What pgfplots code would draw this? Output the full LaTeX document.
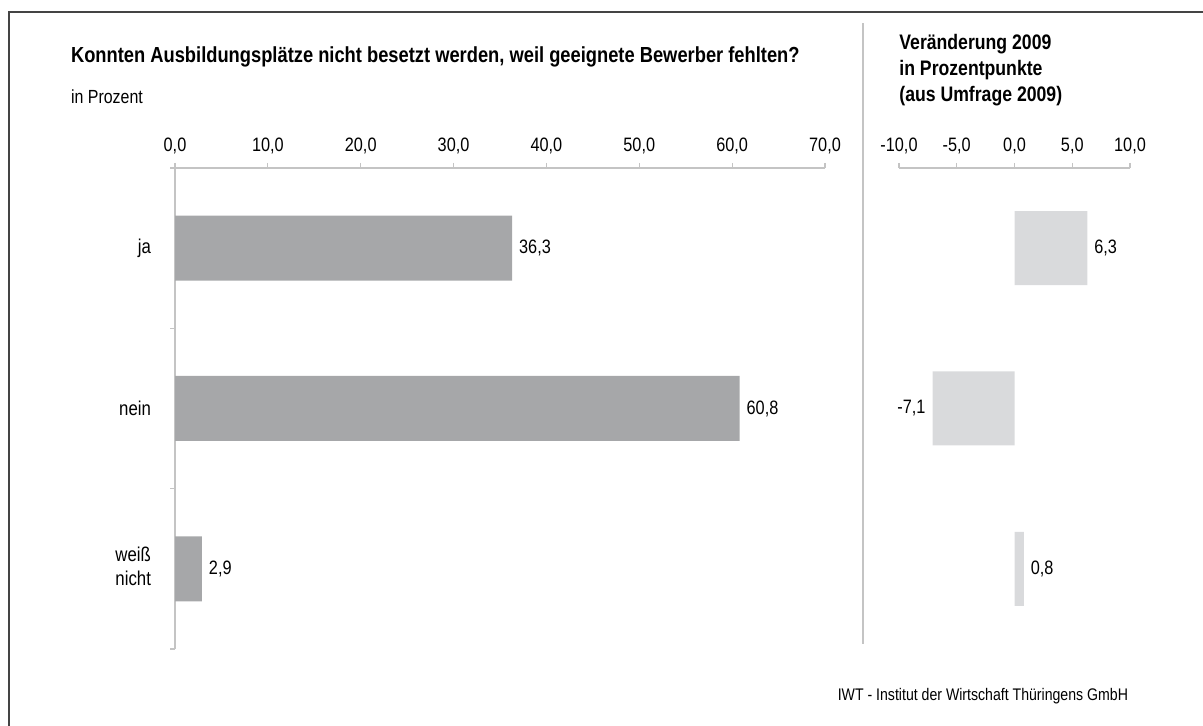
\documentclass[border=0pt]{standalone}
\usepackage{pgfplots}
\pgfplotsset{compat=1.18}
\usepackage{fontspec}
\setmainfont{Liberation Sans}[FakeStretch=0.84]
\definecolor{barA}{HTML}{A6A7A9}
\definecolor{barB}{HTML}{D9DADC}
\definecolor{axisgrey}{HTML}{C4C4C4}
\definecolor{framegrey}{HTML}{444444}

\pgfplotsset{
  iwt/.style={
    scale only axis,
    xbar, bar shift=0pt,
    height=240.5pt,
    ymin=-0.5, ymax=2.5,
    axis x line*=top,
    axis line style={axisgrey, line width=0.6pt},
    tick style={axisgrey, line width=0.6pt},
    tick align=outside,
    major tick length=2.5pt,
    xticklabel style={font=\fontsize{9.7}{11}\selectfont, yshift=1pt},
    /pgf/number format/.cd, fixed, fixed zerofill, precision=1, use comma, assume math mode=true,
    /pgfplots/.cd,
    nodes near coords,
    every node near coord/.append style={font=\fontsize{9.7}{11}\selectfont, text=black},
    clip=false,
  }
}

\begin{document}
\begin{tikzpicture}
\path[use as bounding box] (0,0) rectangle (601.5pt,363pt);
\draw[framegrey, line width=1pt] (4.3pt,0) -- (4.3pt,357pt) -- (601.5pt,357pt);
\draw[axisgrey, line width=0.8pt] (431.5pt,41pt) -- (431.5pt,351.5pt);

\node[anchor=west, font=\bfseries\fontsize{10.9}{12}\selectfont] at (32pt,334.5pt)
  {Konnten Ausbildungsplätze nicht besetzt werden, weil geeignete Bewerber fehlten?};
\node[anchor=west, font=\fontsize{9.5}{11}\selectfont] at (32pt,314.5pt) {in Prozent};
\node[anchor=north west, align=left, inner sep=0pt, font=\bfseries\fontsize{10.5}{13}\selectfont] at (449.5pt,346pt)
  {Veränderung 2009\\in Prozentpunkte\\(aus Umfrage 2009)};
\node[anchor=east, font=\fontsize{8.4}{10}\selectfont] at (567.5pt,15pt)
  {IWT - Institut der Wirtschaft Thüringens GmbH};

\begin{axis}[iwt,
  at={(87.5pt,38.5pt)}, anchor=south west,
  width=325pt,
  xmin=0, xmax=70,
  xtick={0,10,...,70},
  bar width=32.5pt,
  axis y line*=left,
  ytick={0,1,2},
  yticklabels={{\begin{tabular}{@{}l@{}}weiß\\nicht\end{tabular}},nein,ja},
  yticklabel style={font=\fontsize{10}{12}\selectfont, xshift=-6pt},
  major y tick style={draw=none},
  minor ytick={-0.5,0.5,1.5,2.5},
  minor tick length=2.5pt,
]
\addplot[fill=barA, draw=none] coordinates {(36.3,2) (60.8,1) (2.9,0)};
\end{axis}

\begin{axis}[iwt,
  at={(449.5pt,38.5pt)}, anchor=south west,
  width=115.5pt,
  xmin=-10, xmax=10,
  xtick={-10,-5,...,10},
  bar width=37pt,
  axis y line=none,
]
\addplot[fill=barB, draw=none] coordinates {(6.3,2) (-7.1,1) (0.8,0)};
\end{axis}
\end{tikzpicture}
\end{document}
